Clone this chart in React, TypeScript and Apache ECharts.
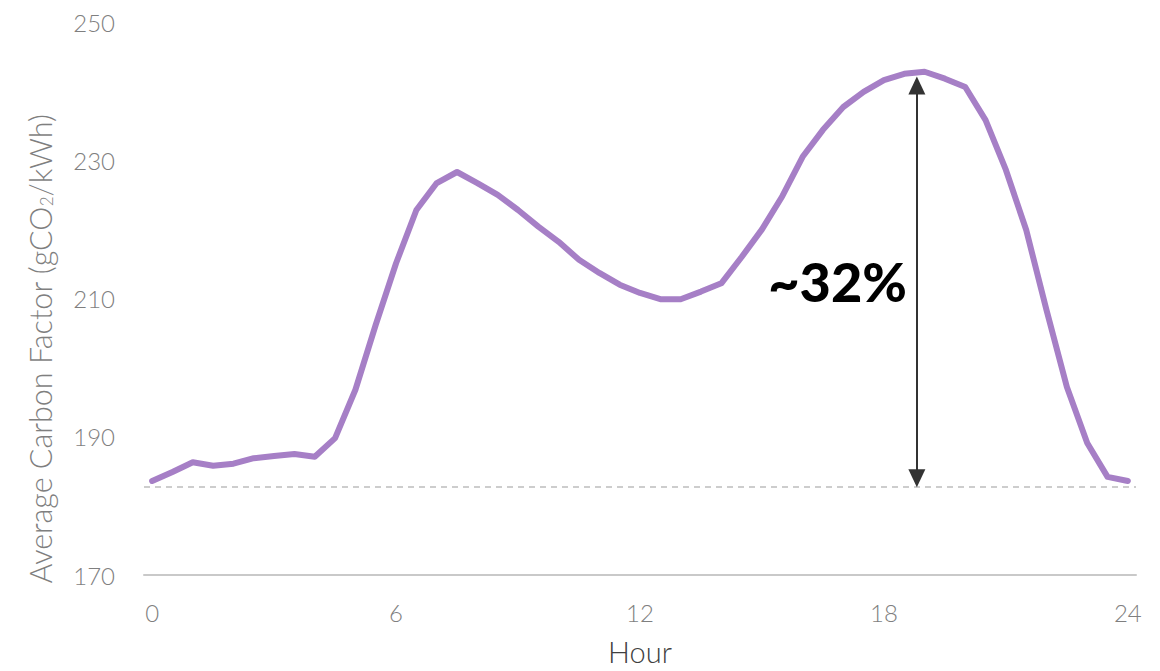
import React, { useEffect, useRef } from "react";
import * as echarts from "echarts";

const hours = [
  0, 0.5, 1, 1.5, 2, 2.5, 3, 3.5, 4, 4.5, 5, 5.5, 6, 6.5, 7, 7.5, 8, 8.5, 9, 9.5,
  10, 10.5, 11, 11.5, 12, 12.5, 13, 13.5, 14, 14.5, 15, 15.5, 16, 16.5, 17, 17.5,
  18, 18.5, 19, 19.5, 20, 20.5, 21, 21.5, 22, 22.5, 23, 23.5, 24,
];
const carbon = [
  183.6, 184.9, 186.3, 185.8, 186.1, 186.9, 187.2, 187.5, 187.1, 189.8, 196.8,
  206.2, 215.1, 222.8, 226.7, 228.3, 226.7, 225.0, 222.8, 220.4, 218.2, 215.6,
  213.7, 212.0, 210.8, 209.9, 209.9, 211.0, 212.2, 216.0, 220.0, 224.8, 230.5,
  234.4, 237.7, 239.9, 241.6, 242.5, 242.8, 241.8, 240.6, 235.8, 228.6, 219.9,
  208.3, 197.2, 189.1, 184.2, 183.6,
];
const xTicks = [0, 6, 12, 18, 24];
const baseline = 182.7;
const arrowHour = 18.81;
const arrowTop = 242.1;
const arrowHeadHalf = 1.3; // half arrow-head height, in axis units
const changeLabel = "~32%";

export default function App() {
  const ref = useRef<HTMLDivElement>(null);
  useEffect(() => {
    if (!ref.current) return;
    const chart = echarts.init(ref.current, null, { renderer: "svg" });
    const font = "Lato, 'Noto Sans', sans-serif";
    chart.setOption({
      animation: false,
      backgroundColor: "#ffffff",
      grid: { left: 144, right: 24, top: 22, bottom: 96, outerBoundsMode: "none", containLabel: false },
      xAxis: {
        type: "value",
        min: -0.2,
        max: 24.2,
        name: "Hour",
        nameLocation: "middle",
        nameGap: 62,
        nameTextStyle: { fontFamily: font, fontWeight: 300, fontSize: 29, color: "#404040" },
        axisLine: { show: true, lineStyle: { color: "#c9c9c9", width: 2 } },
        axisTick: { show: false },
        splitLine: { show: false },
        axisLabel: {
          customValues: xTicks,
          margin: 25,
          fontFamily: font,
          fontWeight: 300,
          fontSize: 24,
          color: "#7f7f7f",
        },
      },
      yAxis: {
        type: "value",
        min: 170,
        max: 250,
        interval: 20,
        axisLine: { show: false },
        axisTick: { show: false },
        splitLine: { show: false },
        axisLabel: {
          margin: 29,
          fontFamily: font,
          fontWeight: 300,
          fontSize: 24,
          color: "#7f7f7f",
        },
      },
      graphic: [
        {
          type: "text",
          x: 40,
          y: 349,
          rotation: Math.PI / 2,
          style: {
            text: "{a|Average Carbon Factor (gCO}{s|2}{a|/kWh)}",
            align: "center",
            verticalAlign: "middle",
            fill: "#7f7f7f",
            rich: {
              a: { fontFamily: font, fontWeight: 300, fontSize: 30.5, lineHeight: 36, fill: "#7f7f7f" },
              s: { fontFamily: font, fontWeight: 300, fontSize: 17, lineHeight: 36, verticalAlign: "bottom", padding: [0, 0, 3, 0], fill: "#7f7f7f" },
            },
          },
        },
      ],
      series: [
        {
          type: "line",
          data: hours.map((h, i) => [h, carbon[i]]),
          showSymbol: false,
          symbol: "none",
          lineStyle: { color: "#a67fc6", width: 6, join: "round", cap: "round" },
          z: 3,
          markLine: {
            silent: true,
            animation: false,
            symbol: ["none", "none"],
            label: { show: false },
            lineStyle: { color: "#bdbdbd", type: [6, 5], width: 1.5 },
            data: [{ yAxis: baseline }],
          },
        },
        {
          type: "line",
          data: [],
          markLine: {
            silent: true,
            animation: false,
            symbol: ["triangle", "triangle"],
            symbolSize: [17, 18],
            label: { show: false },
            lineStyle: { color: "#333333", type: "solid", width: 2 },
            itemStyle: { color: "#333333" },
            data: [[
              { coord: [arrowHour, baseline + arrowHeadHalf] },
              { coord: [arrowHour, arrowTop - arrowHeadHalf] },
            ]],
          },
          markPoint: {
            silent: true,
            symbol: "circle",
            symbolSize: 0,
            label: {
              show: true,
              position: "left",
              distance: 10,
              formatter: changeLabel,
              fontFamily: font,
              fontWeight: 900,
              fontSize: 54,
              color: "#000000",
            },
            data: [{ coord: [arrowHour, (baseline + arrowTop) / 2] }],
          },
        },
      ],
    });
    return () => chart.dispose();
  }, []);
  return (
    <div
      ref={ref}
      style={{ position: "fixed", left: 0, top: 0, width: 1160, height: 671 }}
    />
  );
}
